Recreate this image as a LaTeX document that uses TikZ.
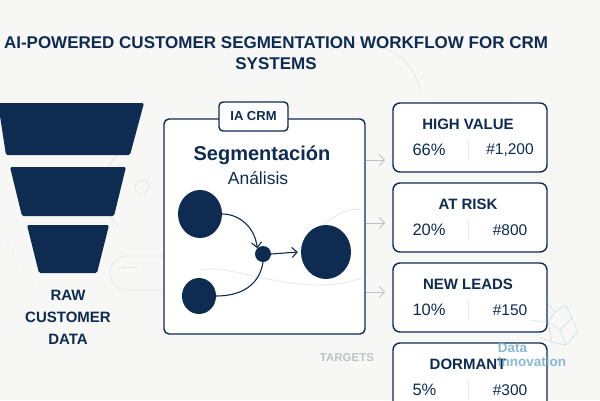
\documentclass[tikz,border=0pt]{standalone}
\usepackage{fontspec}
\setmainfont{Liberation Sans}
\usetikzlibrary{arrows.meta,shapes.geometric,calc}
\definecolor{navy}{RGB}{14,43,82}
\definecolor{bg}{RGB}{247,247,245}
\definecolor{faint}{RGB}{230,231,232}
\definecolor{lgray}{RGB}{190,193,198}
\definecolor{wm}{RGB}{120,172,205}
\tikzset{
  segbox/.style={draw=navy,line width=1.4pt,rounded corners=7pt,fill=white,minimum width=154pt,minimum height=69pt,inner sep=0pt},
  head/.style={text=navy,font=\bfseries\fontsize{15}{15}\selectfont},
  num/.style={text=navy,font=\fontsize{16.5}{16.5}\selectfont},
  cnt/.style={text=navy,font=\fontsize{15.5}{15.5}\selectfont},
  dot/.style={ellipse,fill=navy,inner sep=0pt},
  flow/.style={draw=navy,line width=1.1pt},
  tgt/.style={draw=lgray,line width=0.9pt,-{Straight Barb[length=5pt,width=11pt]}},
  deco/.style={draw=faint,line width=0.8pt}
}
\begin{document}
\begin{tikzpicture}[x=1pt,y=-1pt]
\fill[bg] (0,0) rectangle (600,400);
\useasboundingbox (0,0) rectangle (600,400);
% faint decorations
\draw[deco] (142,187) circle (7);
\draw[deco] (150,190) ++(130:48) arc (130:230:48);
\draw[deco,rounded corners=17pt] (170,256) -- (110,256) -- (110,290) -- (170,290);
\draw[deco,line width=1pt] (122,267) -- (138,267);
\draw[deco] (330,50) .. controls (360,35) and (410,45) .. (420,90);
\foreach \i in {0,...,7}{\foreach \j in {0,...,5}{\fill[faint!70!bg] (440+10*\i,60+8*\j) circle (0.7);}}
\foreach \i in {0,...,5}{\fill[faint] (8+5*\i,245+8*\i) circle (0.9);}

% title
\node[text=navy,font=\bfseries\fontsize{17}{21}\selectfont,align=center] (title) at (276,53) {AI-POWERED CUSTOMER SEGMENTATION WORKFLOW FOR CRM\\SYSTEMS};

% funnel
\fill[navy,rounded corners=1.5pt] (-2,103) -- (144,103) -- (130,155) -- (6,155) -- cycle;
\fill[navy,rounded corners=1.5pt] (10,167) -- (126,167) -- (114,216) -- (22,216) -- cycle;
\fill[navy,rounded corners=1.5pt] (27,225) -- (109,225) -- (97,273) -- (39,273) -- cycle;
\node[text=navy,font=\bfseries\fontsize{15}{22}\selectfont,align=center] (raw) at (68,317) {RAW\\CUSTOMER\\DATA};

% central box
\node[draw=navy,line width=1.4pt,rounded corners=5pt,fill=white,minimum width=201pt,minimum height=215pt,inner sep=0pt] (crm) at (264.5,226.5) {};
\node[draw=navy,line width=1.4pt,rounded corners=4pt,fill=white,minimum width=69pt,minimum height=29pt,inner sep=0pt,text=navy,font=\bfseries\fontsize{13}{13}\selectfont] (tab) at (253.5,116.5) {IA CRM};
\node[text=navy,font=\bfseries\fontsize{20}{20}\selectfont] (seg) at (262,155) {Segmentación};
\node[text=navy,font=\fontsize{17.5}{17.5}\selectfont] (ana) at (258,178) {Análisis};
\draw[deco] (298,250) .. controls (320,228) and (340,205) .. (362,210);
\draw[deco] (200,270) .. controls (230,262) and (300,300) .. (362,278);

\node[dot,minimum width=44pt,minimum height=48pt] (c1) at (200,214) {};
\node[dot,minimum width=34pt,minimum height=36pt] (c2) at (199,296) {};
\node[dot,minimum width=16pt,minimum height=16pt] (hub) at (263,254) {};
\node[dot,minimum width=50pt,minimum height=54pt] (c3) at (326,252) {};
\draw[flow,-{Straight Barb[length=5pt,width=10pt]}] (c1.east) .. controls (240,214) and (255,228) .. (hub.north west);
\draw[flow] (c2.east) .. controls (245,296) and (260,282) .. (hub.south);
\draw[flow,-{Straight Barb[length=5pt,width=10pt]}] (hub.east) -- ($(c3.west)+(-3,0)$);

% targets
\coordinate (o1) at (crm.east |- 0,160);
\coordinate (o2) at (crm.east |- 0,223);
\coordinate (o3) at (crm.east |- 0,292);
\coordinate (e1) at (385,160);
\coordinate (e2) at (385,223);
\coordinate (e3) at (385,292);
\draw[tgt] (o1) -- (e1);
\draw[tgt] (o2) -- (e2);
\draw[tgt] (o3) -- (e3);
\node[text=lgray,font=\bfseries\fontsize{11.5}{11.5}\selectfont] (targets) at (347,358) {TARGETS};

% segment boxes
\foreach \n/\t/\h/\p/\c in {b1/103/{HIGH VALUE}/{66\%}/{\#1,200}, b2/183/{AT RISK}/{20\%}/{\#800}, b3/263/{NEW LEADS}/{10\%}/{\#150}, b4/343/{DORMANT}/{5\%}/{\#300}}{
  \node[segbox] (\n) at (470,\t+34.5) {};
  \node[head] (\n h) at (468,\t+21) {\h};
  \node[num,anchor=west] (\n p) at (409,\t+47) {\p};
  \node[cnt] (\n c) at (510,\t+47) {\c};
  \draw[faint,line width=1pt] (468,\t+37) -- (468,\t+57);
}

% watermark
\begin{scope}[draw=wm,opacity=0.35,line width=0.5pt]
\draw (545,300) -- (555,312) -- (566,305) -- (572,318) -- (560,330) -- (548,322) -- (555,312);
\draw (560,330) -- (566,345) -- (552,342) -- (548,322);
\draw (572,318) -- (578,332) -- (566,345);
\draw (530,320) -- (548,322) (540,338) -- (552,342);
\end{scope}
\node[text=wm,opacity=0.85,font=\bfseries\fontsize{13.5}{14}\selectfont,align=left,inner sep=0pt] (wmk) at (532,355) {Data\\Innovation};
\end{tikzpicture}
\end{document}
